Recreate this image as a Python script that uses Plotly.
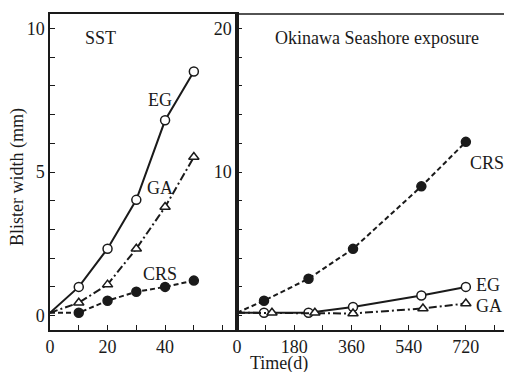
import plotly.graph_objects as go

# Left panel: SST (hours)
sst_x = [0, 10, 20, 30, 40, 50]
sst_eg = [0.1, 1.0, 2.33, 4.03, 6.8, 8.5]
sst_ga = [0.1, 0.45, 1.08, 2.33, 3.78, 5.52]
sst_crs = [0.1, 0.1, 0.52, 0.83, 1.0, 1.22]

# Right panel: Okinawa seashore exposure (days)
oki_crs_x = [0, 85, 225, 365, 580, 720]
oki_crs = [0.2, 1.04, 2.57, 4.65, 9.0, 12.1]
oki_eg_x = [0, 85, 225, 365, 580, 720]
oki_eg = [0.2, 0.2, 0.2, 0.6, 1.4, 2.0]
oki_ga_x = [0, 110, 245, 365, 585, 720]
oki_ga = [0.2, 0.2, 0.2, 0.15, 0.5, 0.85]

FONT = "Liberation Serif"
INK = "#1a1a1a"
DASH = "5px,3px"
DASHDOT = "8px,3px,2px,3px"
FS = 18

fig = go.Figure()

def add(x, y, dash, symbol, fill, xa, ya):
    fig.add_trace(go.Scatter(
        x=x, y=y, mode="lines",
        line=dict(color=INK, width=2, dash=dash),
        xaxis=xa, yaxis=ya, showlegend=False, hoverinfo="skip"))
    fig.add_trace(go.Scatter(
        x=x[1:], y=y[1:], mode="markers",
        marker=dict(symbol=symbol, size=9,
                    color=INK if fill else "white",
                    line=dict(color=INK, width=1.5)),
        xaxis=xa, yaxis=ya, showlegend=False, hoverinfo="skip"))

add(sst_x, sst_eg, "solid", "circle", False, "x", "y")
add(sst_x, sst_ga, DASHDOT, "triangle-up", False, "x", "y")
add(sst_x, sst_crs, DASH, "circle", True, "x", "y")

add(oki_eg_x, oki_eg, "solid", "circle", False, "x2", "y2")
add(oki_ga_x, oki_ga, DASHDOT, "triangle-up", False, "x2", "y2")
add(oki_crs_x, oki_crs, DASH, "circle", True, "x2", "y2")

split = 187 / 454

axis_common = dict(
    showgrid=False, zeroline=False, showline=True, linecolor=INK,
    linewidth=1.5, ticks="inside", ticklen=5, tickwidth=1.2,
    tickcolor=INK, tickfont=dict(family=FONT, size=FS, color=INK),
)

fig.update_layout(
    width=505, height=372,
    margin=dict(l=50, r=1, t=14, b=42),
    paper_bgcolor="white", plot_bgcolor="white",
    font=dict(family=FONT, color=INK, size=FS),
    xaxis=dict(domain=[0, split], range=[0, 65], tickvals=[0, 20, 40],
               minor=dict(dtick=10, ticks="inside", ticklen=5, tickcolor=INK),
               mirror=True, anchor="y", **axis_common),
    yaxis=dict(range=[-0.5, 10.5], tickvals=[0, 5, 10],
               minor=dict(dtick=1, ticks="inside", ticklen=5, tickcolor=INK),
               mirror=True, anchor="x", **axis_common),
    xaxis2=dict(domain=[split, 1], range=[0, 840], tickvals=[0, 180, 360, 540, 720],
                minor=dict(dtick=90, ticks="inside", ticklen=5, tickcolor=INK),
                mirror=False, anchor="y2", **axis_common),
    yaxis2=dict(range=[-1, 21], tickvals=[10, 20],
                minor=dict(dtick=2, ticks="inside", ticklen=5, tickcolor=INK),
                anchor="x2", **axis_common),
)

# top border of right panel
fig.add_shape(type="line", xref="x2 domain", yref="y2 domain",
              x0=0, x1=1, y0=1, y1=1, line=dict(color=INK, width=1.5))

ann = [
    ("SST", 17.4, 9.65, "x", "y", "center"),
    ("EG", 38.3, 7.5, "x", "y", "center"),
    ("GA", 38.3, 4.44, "x", "y", "center"),
    ("CRS", 38.3, 1.46, "x", "y", "center"),
    ("Okinawa Seashore exposure", 442, 19.3, "x2", "y2", "center"),
    ("CRS", 727, 10.6, "x2", "y2", "left"),
    ("EG", 747, 2.15, "x2", "y2", "left"),
    ("GA", 747, 0.68, "x2", "y2", "left"),
]
for t, x, y, xr, yr, xa in ann:
    fig.add_annotation(text=t, x=x, y=y, xref=xr, yref=yr, showarrow=False,
                       xanchor=xa, yanchor="middle",
                       font=dict(family=FONT, size=FS, color=INK))

fig.add_annotation(text="Blister width (mm)", x=-0.0727, y=0.484, xref="paper",
                   yref="paper", showarrow=False, textangle=-90,
                   xanchor="center", yanchor="middle",
                   font=dict(family=FONT, size=FS, color=INK))
fig.add_annotation(text="Time(d)", x=0.504, y=-0.106, xref="paper", yref="paper",
                   showarrow=False, xanchor="center", yanchor="middle",
                   font=dict(family=FONT, size=FS, color=INK))

fig.write_html("out.html", config={"displayModeBar": False},
               post_script="document.body.style.margin='0';document.body.style.padding='0';")
